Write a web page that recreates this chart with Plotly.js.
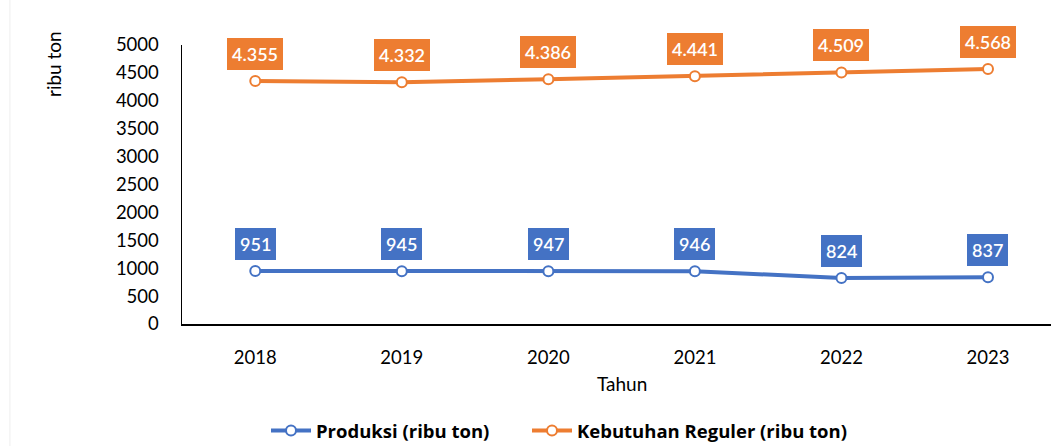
<!DOCTYPE html>
<html>
<head>
<meta charset="utf-8">
<script src="https://cdn.plot.ly/plotly-3.0.1.min.js"></script>
<style>html,body{margin:0;padding:0;background:#fff;}#chart{width:1051px;height:446px;}</style>
</head>
<body>
<div id="chart"></div>
<script>
const years = ["2018", "2019", "2020", "2021", "2022", "2023"];
const produksi = [951, 945, 947, 946, 824, 837];
const kebutuhan = [4355, 4332, 4386, 4441, 4509, 4568];
const seriesNames = ["Produksi (ribu ton)", "Kebutuhan Reguler (ribu ton)"];
const yTicks = [0, 500, 1000, 1500, 2000, 2500, 3000, 3500, 4000, 4500, 5000];

const BLUE = "#4472C4", ORANGE = "#ED7D31";
const FONT = "Lato, 'Open Sans', sans-serif";
const W = 1051, H = 446;

function fmt(v) {
  return String(v).replace(/\B(?=(\d{3})+(?!\d))/g, ".");
}

function trace(y, name, color, legend) {
  return {
    x: years, y: y, name: name, type: "scatter", mode: "lines+markers",
    line: {color: color, width: 4},
    marker: {size: 10, color: "#ffffff", line: {color: color, width: 2}},
    hoverinfo: "skip", legend: legend
  };
}

const annotations = [];
[[produksi, BLUE], [kebutuhan, ORANGE]].forEach(([arr, color]) => {
  arr.forEach((v, i) => {
    annotations.push({
      x: i, y: v, xref: "x", yref: "y",
      text: fmt(v), showarrow: false, yshift: 27,
      xanchor: "center", yanchor: "middle",
      bgcolor: color, borderpad: 5, borderwidth: 0,
      font: {family: FONT, size: 18, color: "#ffffff", weight: 600}
    });
  });
});
annotations.push({
  xref: "paper", yref: "paper", x: (54 - 182) / 869, y: (324 - 64) / 279,
  xanchor: "center", yanchor: "middle",
  text: "ribu ton", textangle: -90, showarrow: false,
  font: {family: FONT, size: 19, color: "#000"}
});
annotations.push({
  xref: "paper", yref: "paper", x: (622 - 182) / 869, y: (324 - 383) / 279,
  xanchor: "center", yanchor: "middle",
  text: "Tahun", showarrow: false, font: {family: FONT, size: 19, color: "#000"}
});

const legendFont = {family: "'Open Sans', sans-serif", size: 18.5, color: "#000", weight: "bold"};
const LEG_Y = 431;
const layout = {
  width: W, height: H,
  margin: {l: 182, r: 0, t: 45, b: 122},
  paper_bgcolor: "#ffffff", plot_bgcolor: "#ffffff",
  showlegend: true,
  legend: {
    orientation: "h", xref: "container", yref: "container",
    x: 266 / W, xanchor: "left", y: (H - LEG_Y) / H, yanchor: "middle",
    font: legendFont, itemwidth: 40, bgcolor: "rgba(0,0,0,0)"
  },
  legend2: {
    orientation: "h", xref: "container", yref: "container",
    x: 527 / W, xanchor: "left", y: (H - LEG_Y) / H, yanchor: "middle",
    font: legendFont, itemwidth: 40, bgcolor: "rgba(0,0,0,0)"
  },
  xaxis: {
    type: "category", range: [-0.5, 5.43],
    showline: true, linecolor: "#000", linewidth: 2,
    showgrid: false, zeroline: false, ticks: "",
    tickfont: {family: FONT, size: 18.5, color: "#000"},
    ticklabelstandoff: 16
  },
  yaxis: {
    range: [0, 5000], tickvals: yTicks, ticktext: yTicks.map(String),
    showline: true, linecolor: "#000", linewidth: 1.5,
    showgrid: false, zeroline: false, ticks: "",
    tickfont: {family: FONT, size: 18.5, color: "#000"},
    ticklabelstandoff: 18
  },
  annotations: annotations,
  shapes: [{type: "line", xref: "paper", yref: "paper", x0: -0.198, x1: -0.198, y0: -0.5, y1: 1.2,
            line: {color: "#eeeeee", width: 1}}]
};

Plotly.newPlot("chart", [
  trace(produksi, seriesNames[0], BLUE, "legend"),
  trace(kebutuhan, seriesNames[1], ORANGE, "legend2")
], layout, {displayModeBar: false, staticPlot: true});
</script>
</body>
</html>
